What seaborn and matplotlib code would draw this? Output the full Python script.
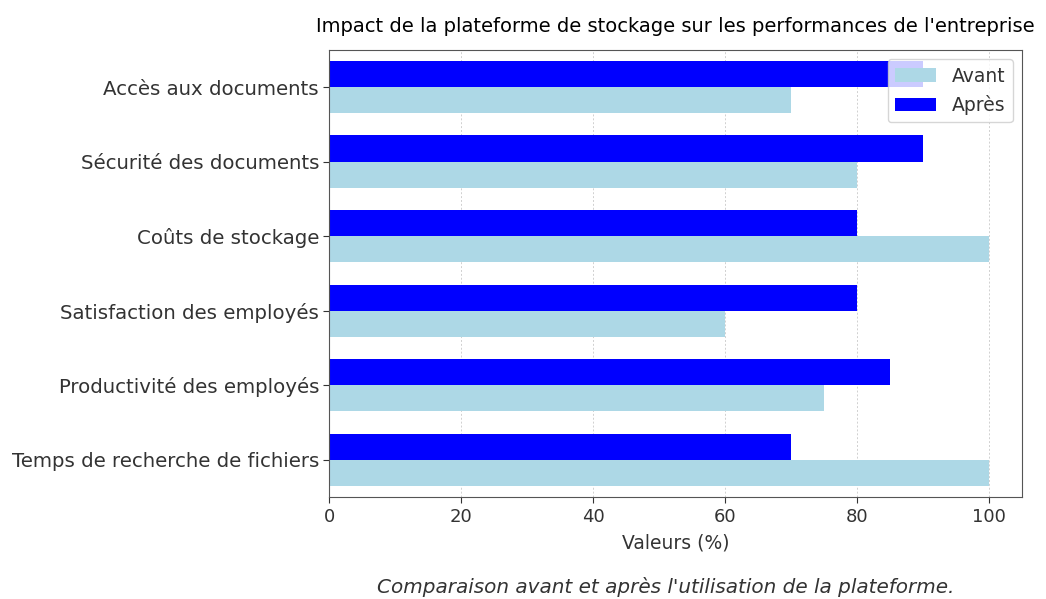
import numpy as np
import pandas as pd
import matplotlib
matplotlib.use("Agg")
import matplotlib.pyplot as plt
import seaborn as sns

# Data
categories = ["Accès aux documents", "Sécurité des documents", "Coûts de stockage",
              "Satisfaction des employés", "Productivité des employés",
              "Temps de recherche de fichiers"]
avant = [70, 80, 100, 60, 75, 100]
apres = [90, 90, 80, 80, 85, 70]

df = pd.DataFrame({
    "Catégorie": categories * 2,
    "Valeur": avant + apres,
    "Période": ["Avant"] * len(categories) + ["Après"] * len(categories),
})

sns.set_style("white")
plt.rcParams['font.family'] = ['DejaVu Sans']
text_col = "#333333"

fig, ax = plt.subplots(figsize=(10.46, 5.99), dpi=100)
fig.subplots_adjust(left=0.315, right=0.977, top=0.917, bottom=0.17)

sns.barplot(data=df, y="Catégorie", x="Valeur", hue="Période",
            hue_order=["Après", "Avant"], order=categories,
            palette={"Avant": "lightblue", "Après": "blue"},
            width=0.7, gap=0, saturation=1, orient="h", ax=ax, legend=True,
            linewidth=0)

ax.set_xlim(0, 105)
ax.set_xticks([0, 20, 40, 60, 80, 100])
ax.grid(axis="x", linestyle=(0, (2, 2)), color="#d0d0d0", linewidth=0.7)
ax.set_axisbelow(True)
ax.tick_params(axis="both", colors=text_col, length=4, left=True, bottom=True)
ax.tick_params(axis="y", labelsize=14.2)
ax.tick_params(axis="x", labelsize=13)
ax.set_ylabel("")
ax.set_xlabel("Valeurs (%)", fontsize=13.5, color=text_col, labelpad=6)
ax.set_title("Impact de la plateforme de stockage sur les performances de l'entreprise",
             fontsize=14, color="black", pad=13)
for s in ax.spines.values():
    s.set_color("#555555")

handles, labels = ax.get_legend_handles_labels()
ax.legend(handles[::-1], labels[::-1], loc="upper right", fontsize=13.5,
          framealpha=0.8, labelcolor=text_col, handlelength=2.2)

fig.text(0.636, 0.01, "Comparaison avant et après l'utilisation de la plateforme.",
         ha="center", fontsize=14.4, style="italic", color=text_col)

fig.savefig("out.png", dpi=100)
